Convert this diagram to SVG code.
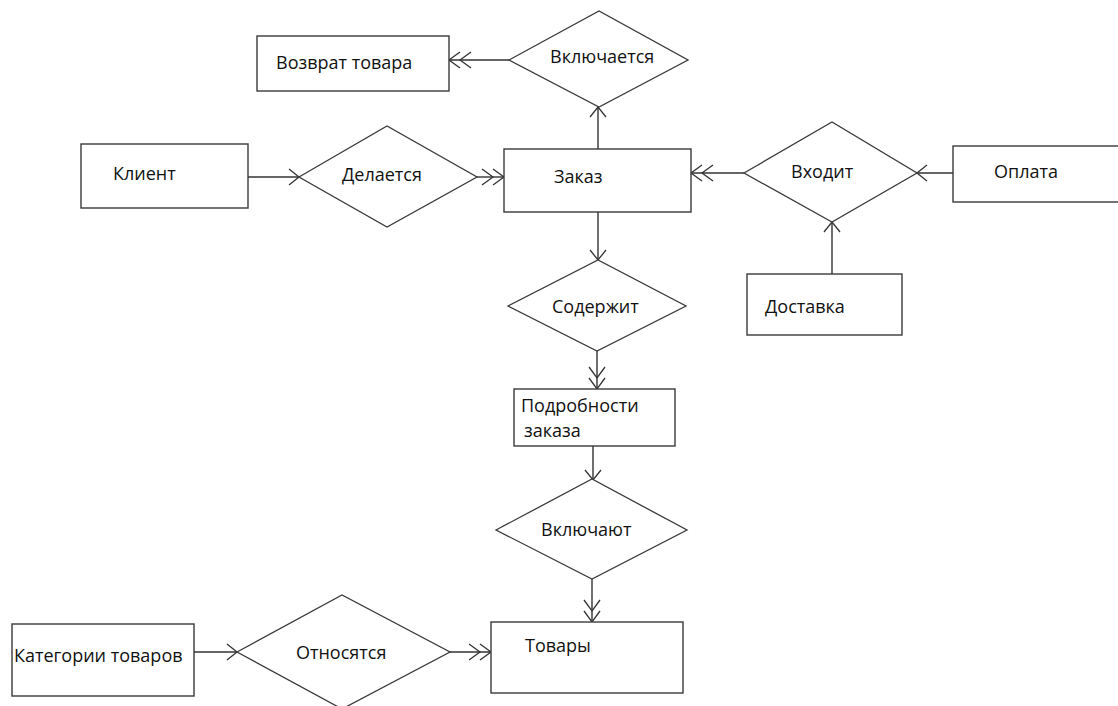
<svg xmlns="http://www.w3.org/2000/svg" width="1118" height="706" viewBox="0 0 1118 706">
  <style>
    .ent { fill: #ffffff; stroke: #3a3a3a; stroke-width: 1.4; }
    .rel { fill: #ffffff; stroke: #3a3a3a; stroke-width: 1.3; }
    .lbl { font-family: "Open Sans", "Liberation Sans", sans-serif; font-size: 18px; fill: #111111; }
    .conn line { stroke: #333333; stroke-width: 1.4; fill: none; }
  </style>
  <defs>
    <!-- single open chevron -->
    <marker id="one" markerUnits="userSpaceOnUse" markerWidth="30" markerHeight="30" viewBox="-25 -12 30 24" refX="0" refY="0" orient="auto" overflow="visible">
      <path d="M-10,-8 L0,0 L-10,8" fill="none" stroke="#333333" stroke-width="1.3"/>
    </marker>
    <!-- double open chevron (many) -->
    <marker id="many" markerUnits="userSpaceOnUse" markerWidth="30" markerHeight="30" viewBox="-25 -12 30 24" refX="0" refY="0" orient="auto" overflow="visible">
      <path d="M-11,-8 L0,0 L-11,8 M-22,-8 L-11,0 L-22,8" fill="none" stroke="#333333" stroke-width="1.3"/>
    </marker>
  </defs>

  <rect width="1118" height="706" fill="#ffffff"/>

  <g class="conn" id="connectors">
    <line x1="509" y1="60" x2="449" y2="60" marker-end="url(#many)"/>
    <line x1="598" y1="149" x2="598" y2="107" marker-end="url(#one)"/>
    <line x1="248" y1="177" x2="299" y2="177" marker-end="url(#one)"/>
    <line x1="477" y1="177" x2="504" y2="177" marker-end="url(#many)"/>
    <line x1="744" y1="173" x2="691" y2="173" marker-end="url(#many)"/>
    <line x1="953" y1="173" x2="917" y2="173" marker-end="url(#one)"/>
    <line x1="832" y1="274" x2="832" y2="222" marker-end="url(#one)"/>
    <line x1="598" y1="212" x2="598" y2="260" marker-end="url(#one)"/>
    <line x1="597" y1="351" x2="597" y2="389" marker-end="url(#many)"/>
    <line x1="593" y1="446" x2="593" y2="480" marker-end="url(#one)"/>
    <line x1="592" y1="579" x2="592" y2="622" marker-end="url(#many)"/>
    <line x1="194" y1="652" x2="237" y2="652" marker-end="url(#one)"/>
    <line x1="450" y1="652" x2="491" y2="652" marker-end="url(#many)"/>
  </g>

  <g id="vozvrat">
    <rect class="ent" x="257" y="36" width="192" height="55"/>
    <text class="lbl" x="276" y="69">Возврат товара</text>
  </g>
  <g id="vklyuchaetsya">
    <polygon class="rel" points="509,60 599,11 688,60 599,107"/>
    <text class="lbl" x="550" y="63">Включается</text>
  </g>
  <g id="klient">
    <rect class="ent" x="81" y="144" width="167" height="64"/>
    <text class="lbl" x="113" y="180">Клиент</text>
  </g>
  <g id="delaetsya">
    <polygon class="rel" points="299,177 387,126 477,177 387,227"/>
    <text class="lbl" x="342" y="181">Делается</text>
  </g>
  <g id="zakaz">
    <rect class="ent" x="504" y="149" width="187" height="63"/>
    <text class="lbl" x="554" y="183">Заказ</text>
  </g>
  <g id="vhodit">
    <polygon class="rel" points="744,173 832,122 917,173 832,222"/>
    <text class="lbl" x="791" y="178">Входит</text>
  </g>
  <g id="oplata">
    <rect class="ent" x="953" y="146" width="170" height="56"/>
    <text class="lbl" x="994" y="178">Оплата</text>
  </g>
  <g id="dostavka">
    <rect class="ent" x="747" y="274" width="155" height="61"/>
    <text class="lbl" x="765" y="313">Доставка</text>
  </g>
  <g id="soderzhit">
    <polygon class="rel" points="508,306 598,260 686,306 597,351"/>
    <text class="lbl" x="552" y="313">Содержит</text>
  </g>
  <g id="podrobnosti">
    <rect class="ent" x="514" y="389" width="161" height="57"/>
    <text class="lbl" x="521" y="412">Подробности</text>
    <text class="lbl" x="524" y="437">заказа</text>
  </g>
  <g id="vklyuchayut">
    <polygon class="rel" points="496,530 592,479 687,530 592,579"/>
    <text class="lbl" x="541" y="536">Включают</text>
  </g>
  <g id="tovary">
    <rect class="ent" x="491" y="622" width="192" height="71"/>
    <text class="lbl" x="525" y="652">Товары</text>
  </g>
  <g id="kategorii">
    <rect class="ent" x="12" y="624" width="182" height="72"/>
    <text class="lbl" x="14" y="662">Категории товаров</text>
  </g>
  <g id="otnosyatsya">
    <polygon class="rel" points="237,652 342,595 450,652 342,709"/>
    <text class="lbl" x="296" y="659">Относятся</text>
  </g>
</svg>
